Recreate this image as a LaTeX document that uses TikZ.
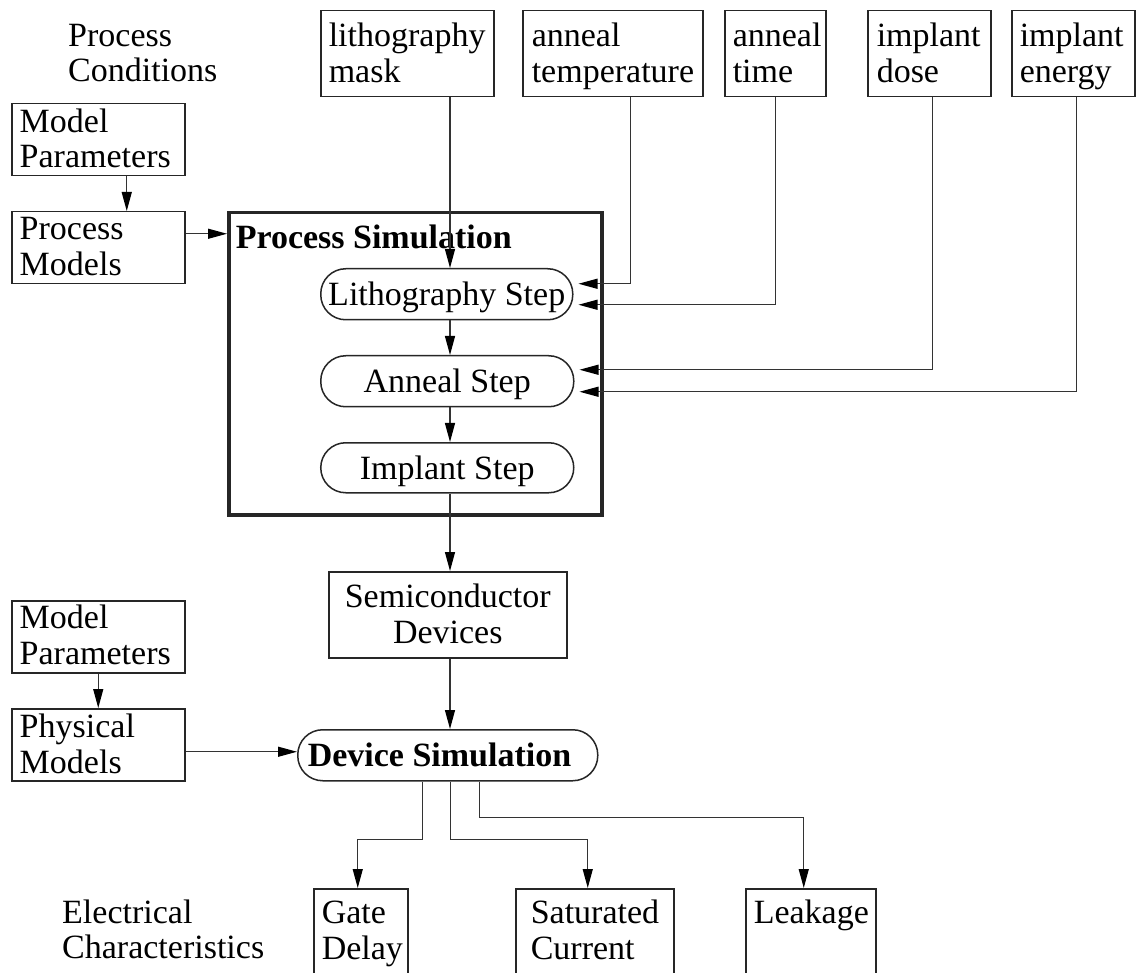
\documentclass[tikz,border=0pt]{standalone}
\usepackage{fontspec}
\setmainfont{Liberation Serif}
\usetikzlibrary{arrows.meta}

% left-aligned text block: width, height, left inset, first baseline, text
\newcommand\cellbox[5]{\parbox[c][#2][t]{#1}{\raggedright\leftskip=#3\relax\rule{0pt}{#4}#5}}
% centred text block: width, height, first baseline, text
\newcommand\ccellbox[4]{\parbox[c][#2][t]{#1}{\centering\rule{0pt}{#3}#4}}

\begin{document}
\begin{tikzpicture}[x=1pt, y=-1pt,
  font=\fontsize{34pt}{35.5pt}\selectfont,
  plain/.style={inner sep=0pt, anchor=north west},
  cell/.style={draw=black!85, line width=1.5pt, inner sep=0pt, anchor=north west},
  stage/.style={draw=black!85, line width=1.5pt, inner sep=0pt, anchor=north west,
                rounded corners=25pt, minimum height=51pt,
                text height=23pt, text depth=0pt},
  link/.style={draw=black!80, line width=1.2pt,
               -{Triangle[length=19pt, width=10pt, color=black]}}]

\useasboundingbox (0,0) rectangle (1138,973);
\fill[white] (0,0) rectangle (1138,973);
\clip (0,0) rectangle (1138,973);

% column labels
\node[plain] (pc) at (68,10) {\cellbox{230pt}{80pt}{0pt}{36pt}{Process\\Conditions}};
\node[plain] (ec) at (62,887) {\cellbox{250pt}{80pt}{0pt}{36pt}{Electrical\\Characteristics}};

% process conditions
\node[cell] (litho)   at (320,10)  {\cellbox{173pt}{86pt}{8pt}{36pt}{lithography\\mask}};
\node[cell] (atemp)   at (522,10)  {\cellbox{180pt}{86pt}{9pt}{36pt}{anneal\\temperature}};
\node[cell] (atime)   at (724,10)  {\cellbox{101pt}{86pt}{8pt}{36pt}{anneal\\time}};
\node[cell] (idose)   at (867,10)  {\cellbox{123pt}{86pt}{9pt}{36pt}{implant\\dose}};
\node[cell] (ienergy) at (1011,10) {\cellbox{123pt}{86pt}{8pt}{36pt}{implant\\energy}};

% process model inputs
\node[cell] (mp1) at (11,103) {\cellbox{173pt}{72pt}{8pt}{28.5pt}{Model\\Parameters}};
\node[cell] (pm)  at (11,211) {\cellbox{173pt}{72pt}{8pt}{28pt}{Process\\Models}};

% process simulation frame and its steps
\node[cell, line width=3.5pt] (psim) at (227,211)
  {\cellbox{373pt}{302pt}{7pt}{36pt}{\bfseries Process Simulation}};
\node[stage, minimum width=252pt] (lstep) at (320,268) {Lithography Step};
\node[stage, minimum width=253pt] (astep) at (320,355) {Anneal Step};
\node[stage, minimum width=253pt, minimum height=50pt] (istep) at (320,442) {Implant Step};

% devices
\node[cell] (sd) at (328,571) {\ccellbox{238pt}{86pt}{36pt}{Semiconductor\\Devices}};

% device model inputs
\node[cell] (mp2) at (11,600) {\cellbox{173pt}{72pt}{8pt}{28pt}{Model\\Parameters}};
\node[cell] (phm) at (11,708) {\cellbox{173pt}{72pt}{8pt}{29pt}{Physical\\Models}};

% device simulation
\node[stage, text height=, text depth=] (dsim) at (297,729)
  {\parbox[c][51pt][c]{300pt}{\hspace*{10pt}\bfseries Device Simulation}};

% electrical characteristics
\node[cell] (gate) at (313,888) {\cellbox{94pt}{120pt}{8pt}{35pt}{Gate\\Delay}};
\node[cell] (sat)  at (515,888) {\cellbox{158pt}{120pt}{15pt}{35pt}{Saturated\\Current}};
\node[cell] (leak) at (745,888) {\cellbox{130pt}{120pt}{8pt}{35pt}{Leakage}};

% main flow column
\coordinate (col) at (450,0);
\draw[link] (litho.south -| col) -- (lstep.north -| col);
\draw[link] (lstep.south -| col) -- (astep.north -| col);
\draw[link] (astep.south -| col) -- (istep.north -| col);
\draw[link] (istep.south -| col) -- (sd.north -| col);
\draw[link] (sd.south -| col) -- (dsim.north -| col);

% condition feeds into the steps
\draw[link] ([xshift=18pt]atemp.south) |- ([xshift=5pt,yshift=10.5pt]lstep.east);
\draw[link] (atime.south) |- ([xshift=5pt,yshift=-10.5pt]lstep.east);
\draw[link] ([xshift=3.5pt]idose.south) |- ([xshift=5pt,yshift=11.5pt]astep.east);
\draw[link] ([xshift=3.5pt]ienergy.south) |- ([xshift=5pt,yshift=-10.5pt]astep.east);

% model chains
\draw[link] ([xshift=28.5pt]mp1.south) -- ([xshift=28.5pt]pm.north);
\draw[link] ([yshift=14pt]pm.east) -- ([yshift=14pt]pm.east -| psim.west);
\draw[link] (mp2.south) -- (phm.north);
\draw[link] ([yshift=-7pt]phm.east) -- ([yshift=-7pt]phm.east -| dsim.west);

% simulation outputs
\draw[link] ([xshift=-25pt]dsim.south) -- ++(0,58) -| ([xshift=-3pt]gate.north);
\draw[link] ([xshift=3pt]dsim.south) -- ++(0,58) -| ([xshift=-7pt]sat.north);
\draw[link] ([xshift=32pt]dsim.south) -- ++(0,36) -| ([xshift=-7pt]leak.north);

\end{tikzpicture}
\end{document}
